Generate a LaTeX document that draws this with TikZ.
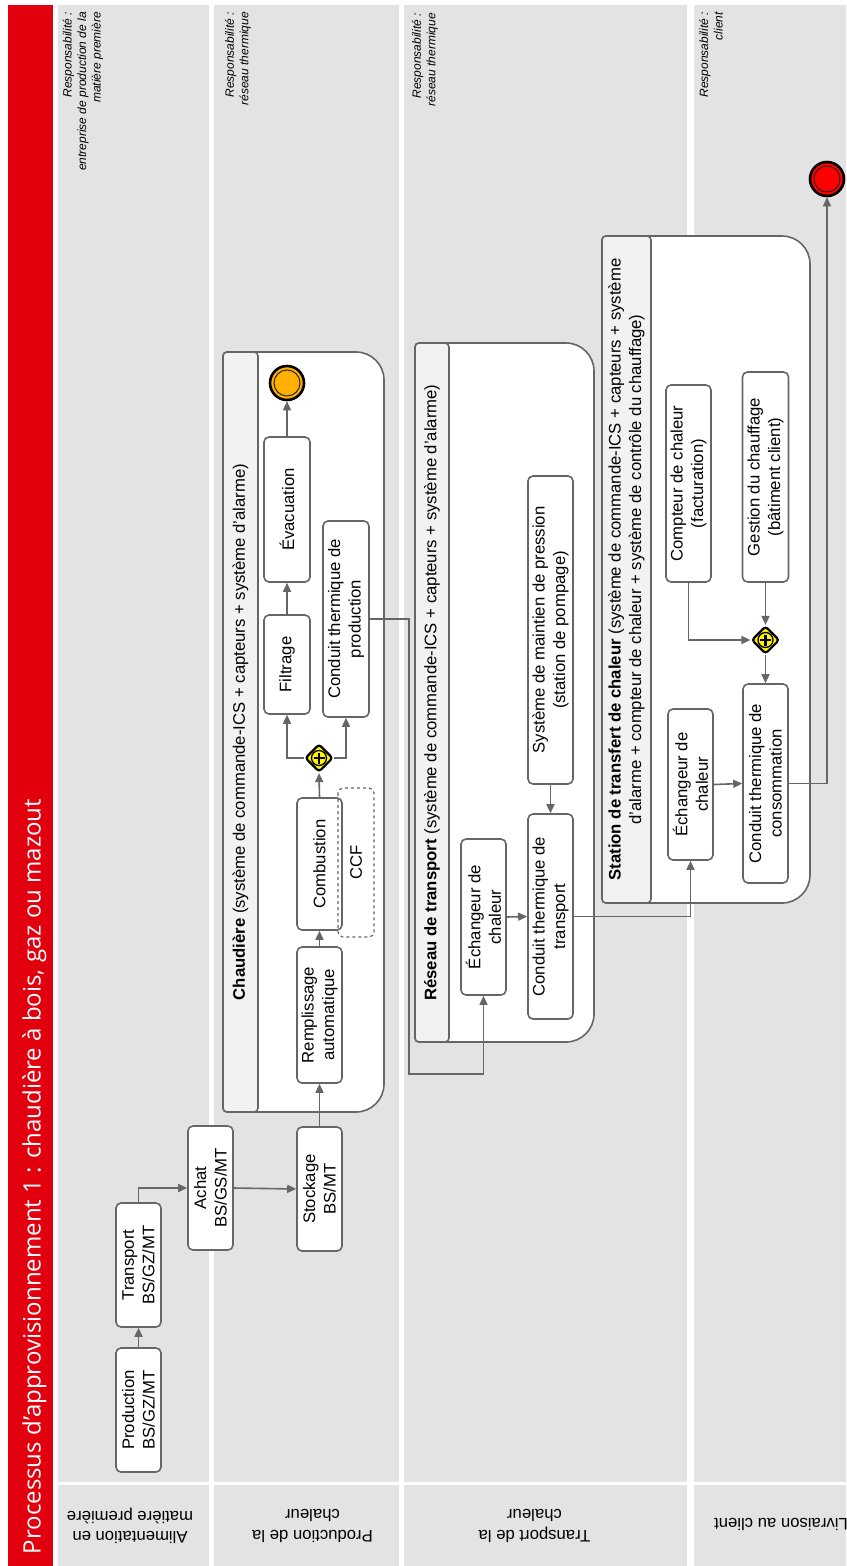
\documentclass[tikz,border=0pt]{standalone}
\usepackage{fontspec}
\setmainfont{Liberation Sans}
\newfontfamily\ttlfont{Open Sans}
\usetikzlibrary{arrows.meta,shapes.geometric,calc}
\definecolor{lanegray}{HTML}{E4E3E4}
\definecolor{titlered}{HTML}{E2000F}
\definecolor{linegray}{HTML}{666666}
\definecolor{stripgray}{HTML}{F2F2F2}
\definecolor{gwyellow}{HTML}{FFF500}
\definecolor{evorange}{HTML}{FFB000}
\definecolor{evred}{HTML}{FF0000}
\newcommand\bxfont{\fontsize{16.7}{20.5}\selectfont}
\newcommand\rsfont{\fontsize{12}{14.5}\selectfont\itshape}
\newcommand\mypool[5]{%
  \filldraw[poolline, fill=white] (#1,#2+4) arc[start angle=180,end angle=270,radius=4]
    -- (#3-28,#2) arc[start angle=270,end angle=360,radius=28]
    -- (#3,#4-28) arc[start angle=0,end angle=90,radius=28]
    -- (#1+4,#4) arc[start angle=90,end angle=180,radius=4] -- cycle;
  \filldraw[poolline, fill=stripgray, rounded corners=4pt] (#1,#2) rectangle (#5,#4);
}
\begin{document}
\begin{tikzpicture}[x=1pt,y=-1pt,
  box/.style={draw=linegray, line width=1.6pt, fill=white, rounded corners=5pt, rotate=90, align=center, inner sep=0pt, font=\bxfont},
  dbox/.style={draw=linegray, line width=1.2pt, dashed, rounded corners=5pt, rotate=90, align=center, inner sep=0pt, font=\bxfont},
  poolline/.style={draw=linegray, line width=1.6pt},
  hdr/.style={rotate=90, align=center, inner sep=0pt, font=\bxfont},
  arr/.style={draw=linegray, line width=1.6pt, -{Triangle[length=9pt,width=8pt]}},
  gw/.style={diamond, draw=black, line width=2.2pt, fill=gwyellow, minimum size=28pt, inner sep=0pt, rounded corners=3pt,
    path picture={\draw[line width=2.6pt] ([xshift=-5.5pt]path picture bounding box.center) -- ([xshift=5.5pt]path picture bounding box.center);
      \draw[line width=2.6pt] ([yshift=-5.5pt]path picture bounding box.center) -- ([yshift=5.5pt]path picture bounding box.center);
      \draw[line width=1.3pt] (path picture bounding box.center) circle[radius=7.5pt];}},
  ev/.style={circle, draw=black, line width=2.6pt, minimum size=34pt, inner sep=0pt,
    path picture={\draw[line width=1pt, black!85] (path picture bounding box.center) circle[radius=13pt];}},
  resp/.style={rotate=90, anchor=east, align=right, inner sep=0pt, font=\rsfont},
  lanelbl/.style={rotate=180, align=center, inner sep=0pt, font=\bxfont}
]
\useasboundingbox (0,0) rectangle (846,1566);
\clip (0,0) rectangle (846,1566);
% title band
\fill[titlered] (8,5) rectangle (53,1566);
\node[rotate=90, anchor=base, text=white, inner sep=0pt, font=\ttlfont\fontsize{24}{28}\selectfont] (title) at (40.5,1176.5) {Processus d’approvisionnement 1 : chaudière à bois, gaz ou mazout};
% lanes
\fill[lanegray] (58,5) rectangle (209,1482);
\fill[lanegray] (58,1485) rectangle (209,1566);
\fill[lanegray] (214,5) rectangle (399,1482);
\fill[lanegray] (214,1485) rectangle (399,1566);
\fill[lanegray] (404,5) rectangle (687,1482);
\fill[lanegray] (404,1485) rectangle (687,1566);
\fill[lanegray] (694,5) rectangle (850,1482);
\fill[lanegray] (694,1485) rectangle (850,1566);
% lane labels
\node[lanelbl] (l1) at (130,1526) {Alimentation en\\matière première};
\node[lanelbl] (l2) at (312.5,1526) {Production de la\\chaleur};
\node[lanelbl] (l3) at (534.5,1526) {Transport de la\\chaleur};
\node[lanelbl] (l4) at (781,1524) {Livraison au client};
% responsibilities
\node[resp] (r1) at (83,12) {Responsabilité :\\entreprise de production de la\\matière première};
\node[resp] (r2) at (238,12) {Responsabilité :\\réseau thermique};
\node[resp] (r3) at (425,13) {Responsabilité :\\réseau thermique};
\node[resp] (r4) at (711,12) {Responsabilité :\\client};
% pools
\mypool{223}{352}{384}{1112}{258}
\mypool{415}{343}{594}{1042}{449}
\mypool{602}{236}{810}{903}{651}
\node[hdr] (hC) at (240.5,732) {\textbf{Chaudière} (système de commande-ICS + capteurs + système d’alarme)};
\node[hdr] (hR) at (432,692.5) {\textbf{Réseau de transport} (système de commande-ICS + capteurs + système d’alarme)};
\node[hdr] (hS) at (626.5,569.5) {\textbf{Station de transfert de chaleur} (système de commande-ICS + capteurs + système\\d’alarme + compteur de chaleur + système de contrôle du chauffage)};
% lane 1 boxes
\node[box, minimum width=124, minimum height=45] (prod) at (138.5,1410) {Production\\BS/GZ/MT};
\node[box, minimum width=124, minimum height=45] (transp) at (138.5,1265) {Transport\\BS/GZ/MT};
\node[box, minimum width=124, minimum height=45] (achat) at (210.5,1188) {Achat\\BS/GS/MT};
\node[box, minimum width=124, minimum height=45] (stock) at (319.5,1189) {Stockage\\BS/MT};
% chaudiere
\node[box, minimum width=136, minimum height=45] (rempl) at (319.5,1015) {Remplissage\\automatique};
\node[box, minimum width=132, minimum height=45] (comb) at (319.5,864) {Combustion};
\node[dbox, minimum width=149, minimum height=36] (ccf) at (356,862.5) {CCF};
\node[gw] (gw1) at (319,758) {};
\node[box, minimum width=99, minimum height=46] (filt) at (287,664.5) {Filtrage};
\node[box, minimum width=145, minimum height=46] (evac) at (287,509.5) {Évacuation};
\node[box, minimum width=196, minimum height=46] (condprod) at (346,619) {Conduit thermique de\\production};
\node[ev, fill=evorange] (end1) at (287,383) {};
% reseau
\node[box, minimum width=156, minimum height=45] (echT) at (483.5,917) {Échangeur de\\chaleur};
\node[box, minimum width=205, minimum height=45] (condT) at (550.5,916.5) {Conduit thermique de\\transport};
\node[box, minimum width=308, minimum height=45] (press) at (550.5,630) {Système de maintien de pression\\(station de pompage)};
% station
\node[box, minimum width=151, minimum height=45] (echS) at (690.5,784.5) {Échangeur de\\chaleur};
\node[box, minimum width=199, minimum height=45] (condC) at (765.5,783.5) {Conduit thermique de\\consommation};
\node[box, minimum width=197, minimum height=45] (compt) at (688.5,483.5) {Compteur de chaleur\\(facturation)};
\node[box, minimum width=210, minimum height=46] (gest) at (765.5,477) {Gestion du chauffage\\(bâtiment client)};
\node[gw] (gw2) at (765.5,640) {};
\node[ev, fill=evred] (end2) at (827,179) {};
% connectors
\draw[arr] (prod.east) -- (transp.west);
\draw[arr] (transp.east) |- (achat.north);
\draw[arr] (achat.south) -- (stock.north);
\draw[arr] (stock.east) -- (rempl.west);
\draw[arr] (rempl.east) -- (comb.west);
\draw[arr] (comb.east) -- (gw1.south);
\draw[arr] (gw1.west) -| (filt.west);
\draw[arr] (gw1.east) -| (condprod.west);
\draw[arr] (filt.east) -- (evac.west);
\draw[arr] (evac.east) -- (end1.south);
\draw[arr] (condprod.south) -- ++(39,0) -- ++(0,455) -| (echT.west);
\draw[arr] (echT.south) -- (condT.north);
\draw[arr] (press.west) -- (condT.east);
\draw[arr] (condT.south) -| (echS.west);
\draw[arr] (echS.south) -- (condC.north);
\draw[arr] (compt.west) |- (gw2.west);
\draw[arr] (gest.west) -- (gw2.north);
\draw[arr] (gw2.south) -- (condC.east);
\draw[arr] (condC.south) -| (end2.south);
\end{tikzpicture}
\end{document}
